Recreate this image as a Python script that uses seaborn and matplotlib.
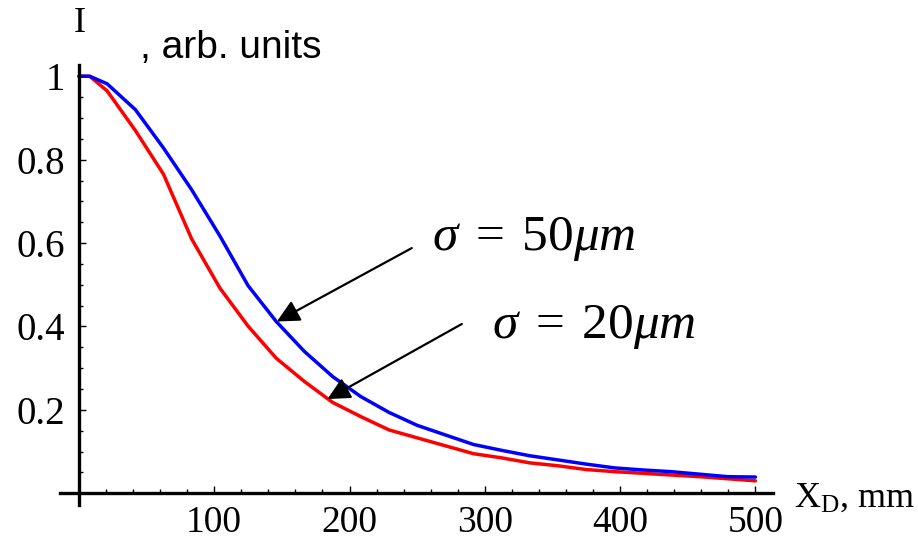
import pandas as pd
import seaborn as sns
import matplotlib.pyplot as plt
from matplotlib.ticker import MultipleLocator, FixedLocator

# values
x_d = [0, 8, 20.8, 41.7, 62.5, 83.3, 104.2, 125, 145.8, 166.7, 187.5, 208.3, 229.2,
       250, 270.8, 291.7, 312.5, 333.3, 354.2, 375, 395.8, 416.7, 437.5, 458.3, 479.2, 500]
i_20um = [1.0, 1.0, 0.965, 0.870, 0.765, 0.610, 0.492, 0.401, 0.324, 0.268, 0.218, 0.184,
          0.152, 0.133, 0.114, 0.095, 0.085, 0.073, 0.066, 0.057, 0.052, 0.048, 0.044,
          0.040, 0.035, 0.030]
i_50um = [1.0, 1.0, 0.982, 0.920, 0.828, 0.728, 0.617, 0.498, 0.412, 0.340, 0.280, 0.232,
          0.194, 0.163, 0.140, 0.117, 0.103, 0.090, 0.080, 0.070, 0.061, 0.056, 0.052,
          0.046, 0.040, 0.039]
x_ticks = [100, 200, 300, 400, 500]
y_ticks = [0.2, 0.4, 0.6, 0.8, 1.0]
y_tick_labels = ['0.2', '0.4', '0.6', '0.8', '1']

sns.set_theme(style='ticks')
plt.rcParams['font.family'] = ['Liberation Serif', 'DejaVu Serif']
plt.rcParams['text.color'] = 'black'
plt.rcParams['xtick.color'] = 'black'
plt.rcParams['ytick.color'] = 'black'
plt.rcParams['mathtext.fontset'] = 'custom'
plt.rcParams['mathtext.rm'] = 'Liberation Serif'
plt.rcParams['mathtext.it'] = 'Liberation Serif:italic'

df = pd.DataFrame({'x': x_d * 2,
                   'I': i_50um + i_20um,
                   'sigma': ['50'] * len(x_d) + ['20'] * len(x_d)})

fig = plt.figure(figsize=(9.18, 5.46), dpi=100)
ax = fig.add_axes([60 / 918, 1 - 505 / 546, 713 / 918, 440 / 546])

sns.lineplot(data=df, x='x', y='I', hue='sigma', palette={'50': '#0000ff', '20': '#ff0000'},
             hue_order=['20', '50'], linewidth=2.5, legend=False, ax=ax, estimator=None, sort=False)

ax.set_xlim(-14, 513)
ax.set_ylim(-0.028, 1.027)
for s in ['top', 'right']:
    ax.spines[s].set_visible(False)
for s in ['left', 'bottom']:
    ax.spines[s].set_position(('data', 0))
    ax.spines[s].set_linewidth(2.4)
    ax.spines[s].set_color('black')
ax.set_xlabel('')
ax.set_ylabel('')

ax.xaxis.set_major_locator(FixedLocator(x_ticks))
ax.xaxis.set_minor_locator(MultipleLocator(20))
ax.yaxis.set_major_locator(FixedLocator(y_ticks))
ax.yaxis.set_minor_locator(MultipleLocator(0.05))
ax.set_yticklabels(y_tick_labels)
ax.tick_params(which='both', direction='in', color='black', width=1, bottom=True, left=True)
ax.tick_params(which='major', length=5)
ax.tick_params(which='minor', length=3)
ax.tick_params(axis='x', which='major', labelsize=27, pad=9)
ax.tick_params(axis='y', which='major', labelsize=28, pad=10)

ax.annotate('', xy=(146.3, 0.412), xytext=(246, 0.588),
            arrowprops=dict(arrowstyle='-|>', color='black', lw=1.6, mutation_scale=34,
                            shrinkA=0, shrinkB=0))
ax.annotate('', xy=(183.7, 0.226), xytext=(283, 0.406),
            arrowprops=dict(arrowstyle='-|>', color='black', lw=1.6, mutation_scale=34,
                            shrinkA=0, shrinkB=0))
ax.text(260.8, 0.584, r'$\sigma\;=\;50\mu m$', fontsize=37, va='baseline', ha='left')
ax.text(305.1, 0.373, r'$\sigma\;=\;20\mu m$', fontsize=37, va='baseline', ha='left')

fig.text(80 / 918, 1 - 24 / 546, 'I', fontsize=26, ha='center', va='center')
fig.text(140 / 918, 1 - 58 / 546, ', arb. units', fontsize=28, ha='left', va='baseline',
         family=['Liberation Sans', 'DejaVu Sans'])
fig.text(794 / 918, 1 - 507 / 546, r'X$_{\mathrm{D}}$, mm', fontsize=26, ha='left', va='baseline')

fig.savefig('out.png', dpi=100)
